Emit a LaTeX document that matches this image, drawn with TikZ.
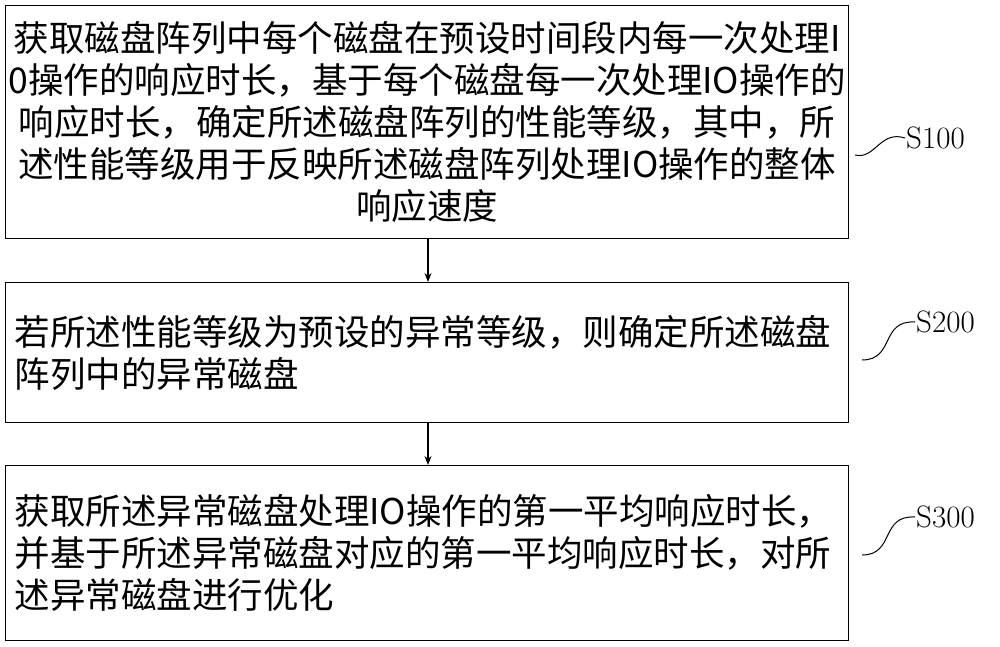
\documentclass[tikz,border=0pt]{standalone}
\usepackage{fontspec}
\newfontfamily\cjk{Noto Sans CJK SC}
\usetikzlibrary{arrows.meta,positioning}
\tikzset{>={Stealth[width=7pt,length=9pt]}}
\tikzset{stepbox/.style={draw,line width=1.2pt,minimum width=843pt,inner sep=0pt},
  steptext/.style={font=\cjk\fontsize{35.5}{42}\selectfont,text width=840pt}}

\begin{document}
\begin{tikzpicture}[x=1pt,y=-1pt]
  \useasboundingbox (0,0) rectangle (1000,647);

  % boxes
  \node[stepbox,minimum height=233pt,anchor=north west] (s1) at (5,5) {};
  \node[stepbox,minimum height=140pt,anchor=north west] (s2) at (5,282) {};
  \node[stepbox,minimum height=175pt,anchor=north west] (s3) at (5,465) {};

  \node[steptext,align=center] (t1) at (s1.center) {获取磁盘阵列中每个磁盘在预设时间段内每一次处理I\\0操作的响应时长，基于每个磁盘每一次处理IO操作的\\响应时长，确定所述磁盘阵列的性能等级，其中，所\\述性能等级用于反映所述磁盘阵列处理IO操作的整体\\响应速度};
  \node[steptext,align=left,anchor=west] (t2) at ([xshift=6pt]s2.west) {若所述性能等级为预设的异常等级，则确定所述磁盘\\阵列中的异常磁盘};
  \node[steptext,align=left,anchor=west] (t3) at ([xshift=6pt]s3.west) {获取所述异常磁盘处理IO操作的第一平均响应时长，\\并基于所述异常磁盘对应的第一平均响应时长，对所\\述异常磁盘进行优化};

  % arrows
  \draw[->,line width=1.2pt] (s1.south -| 428,0) -- (s2.north -| 428,0);
  \draw[->,line width=1.2pt] (s2.south -| 428,0) -- (s3.north -| 428,0);

  % labels
  \node[font=\fontsize{31}{34}\selectfont,anchor=west,inner sep=1pt] (l1) at (905,138) {S100};
  \node[font=\fontsize{31}{34}\selectfont,anchor=west,inner sep=1pt] (l2) at (915,322) {S200};
  \node[font=\fontsize{31}{34}\selectfont,anchor=west,inner sep=1pt] (l3) at (915,517) {S300};
  \draw[line width=1pt] (855,155) .. controls (875,160) and (880,130) .. (l1.west);
  \draw[line width=1pt] (862,360) .. controls (895,360) and (880,320) .. (l2.west);
  \draw[line width=1pt] (862,555) .. controls (895,555) and (880,515) .. (l3.west);
\end{tikzpicture}
\end{document}
